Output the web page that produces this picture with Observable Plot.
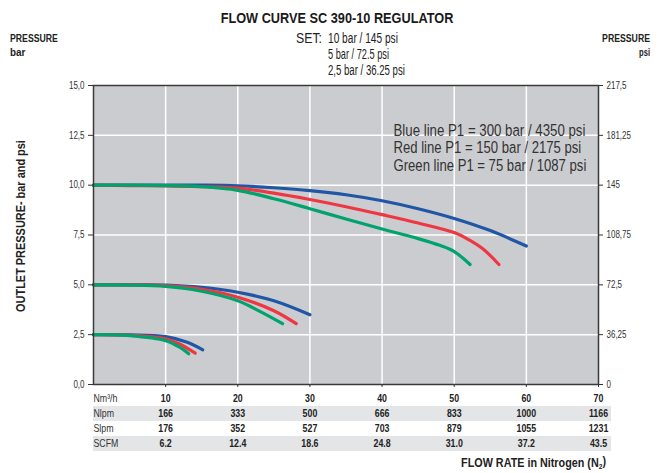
<!DOCTYPE html>
<html><head><meta charset="utf-8">
<script src="https://cdn.jsdelivr.net/npm/d3@7"></script>
<script src="https://cdn.jsdelivr.net/npm/@observablehq/plot@0.6"></script>
<style>
body{margin:0;background:#fff;}
#chart svg{display:block;}
</style></head><body><div id="chart"></div>
<script>
const FONT = "'Liberation Sans',Arial,sans-serif";

// Axis ticks and labels
const yTicks = [0, 2.5, 5, 7.5, 10, 12.5, 15];
const barLabels = ["0,0", "2,5", "5,0", "7,5", "10,0", "12,5", "15,0"];
const psiLabels = ["0", "36,25", "72,5", "108,75", "145", "181,25", "217,5"];

// Flow table (x axis)
const flowTicks = [10, 20, 30, 40, 50, 60, 70];
const nlpm = [166, 333, 500, 666, 833, 1000, 1166];
const slpm = [176, 352, 527, 703, 879, 1055, 1231];
const scfm = ["6.2", "12.4", "18.6", "24.8", "31.0", "37.2", "43.5"];
const rowLabels = ["Nm³/h", "Nlpm", "Slpm", "SCFM"];

// Legend lines
const legendLines = ["Blue line P1 = 300 bar / 4350 psi", "Red line P1 = 150 bar / 2175 psi", "Green line P1 = 75 bar / 1087 psi"];

// Curves: [flow Nm3/h, outlet pressure bar]
const blue10 = [[0,10],[5,10],[10,10],[15,10],[20,9.97],[25,9.87],[30,9.73],[35,9.52],[40,9.22],[45,8.82],[50,8.33],[55,7.72],[60,6.95]];
const red10 = [[0,10],[5,9.98],[10,9.96],[15,9.93],[20,9.85],[25,9.6],[30,9.28],[35,8.92],[40,8.52],[45,8.1],[50,7.62],[52,7.27],[54,6.8],[56.2,6.02]];
const green10 = [[0,10],[5,10],[10,9.98],[15,9.92],[20,9.74],[25,9.32],[30,8.82],[35,8.3],[40,7.8],[45,7.32],[48,6.98],[50,6.67],[52.2,6.02]];
const blue5 = [[0,5],[5,5],[10,4.99],[15,4.88],[20,4.63],[25,4.2],[30,3.5]];
const red5 = [[0,5],[5,5],[10,4.96],[15,4.78],[20,4.38],[25,3.7],[28.1,3.05]];
const green5 = [[0,5],[5,4.99],[10,4.92],[15,4.68],[20,4.2],[23,3.68],[26.2,3.05]];
const blue25 = [[0,2.5],[5,2.49],[10,2.4],[13,2.12],[15.15,1.74]];
const red25 = [[0,2.5],[5,2.47],[10,2.29],[12,2.02],[14.1,1.57]];
const green25 = [[0,2.5],[5,2.45],[10,2.2],[12,1.86],[13.2,1.54]];

const BLUE = "#1f56a6", RED = "#ee3742", GREEN = "#00a36c";
const series = [
  [blue10, BLUE], [red10, RED], [green10, GREEN],
  [blue5, BLUE], [red5, RED], [green5, GREEN],
  [blue25, BLUE], [red25, RED], [green25, GREEN]
];

const tickColor = "#333";
const lineMarks = series.map(([pts, c]) =>
  Plot.line(pts, {x: d => d[0], y: d => d[1], stroke: c, strokeWidth: 3.2, curve: "catmull-rom"})
);

const tableRows = [flowTicks, nlpm, slpm, scfm];
const tableMarks = [];
tableRows.forEach((vals, r) => {
  const dy = 14 + r * 15;
  if (r % 2 === 1) {
    tableMarks.push(Plot.ruleY([0], {x1: 0, x2: 70, dy, strokeWidth: 15, stroke: "#e4e5e7", insetRight: -13}));
  }
  tableMarks.push(Plot.text([rowLabels[r]], {x: 0, y: 0, text: d => d, dy, textAnchor: "start", fontSize: 11, fill: "#333"}));
  tableMarks.push(Plot.text(flowTicks.map((f, i) => ({f, v: vals[i]})), {x: "f", y: () => 0, text: d => String(d.v), dy, fontSize: 11, fontWeight: "bold", fill: "#222"}));
});

const legendMarks = legendLines.map((t, i) =>
  Plot.text([t], {frameAnchor: "top-left", dx: 300, dy: 38 + i * 17.7, textAnchor: "start", fontSize: 17, fill: "#333", className: "legend-line"})
);

const chart = Plot.plot({
  width: 662, height: 473,
  marginLeft: 93, marginRight: 64, marginTop: 85, marginBottom: 89,
  x: {domain: [0, 70]},
  y: {domain: [0, 15]},
  style: {fontFamily: FONT, background: "white", overflow: "visible"},
  marks: [
    Plot.frame({fill: "#cbcccf", stroke: null}),
    Plot.ruleX(flowTicks.slice(0, -1), {stroke: "white", strokeWidth: 1.5}),
    Plot.ruleY(yTicks.slice(1, -1), {stroke: "white", strokeWidth: 1.5}),
    ...lineMarks,
    Plot.frame({stroke: "#3a3a3a", strokeWidth: 1.5}),
    Plot.axisY({ticks: yTicks, anchor: "left", tickFormat: d => barLabels[yTicks.indexOf(d)], tickSize: 5, tickPadding: 4, label: null, fontSize: 10, color: tickColor}),
    Plot.axisY({ticks: yTicks, anchor: "right", tickFormat: d => psiLabels[yTicks.indexOf(d)], tickSize: 4, tickPadding: 4, label: null, fontSize: 10, color: tickColor}),
    Plot.axisX({ticks: flowTicks, tickFormat: () => "", tickSize: 3, label: null, color: tickColor}),
    ...tableMarks,
    ...legendMarks
  ]
});
document.getElementById("chart").appendChild(chart);

const svg = d3.select(chart);

// Horizontally squeeze a text around its anchor point (mimics the condensed typeface)
function squeeze(el, s) {
  const x = parseFloat(el.getAttribute("x") || el.querySelector("tspan")?.getAttribute("x") || 0) || 0;
  const T = el.getAttribute("transform") || "";
  el.setAttribute("transform", `${T} translate(${x},0) scale(${s.toFixed(4)},1) translate(${-x},0)`.trim());
}
function naturalWidth(el) { return el.getBBox().width; }

svg.selectAll("text").each(function () {
  if (this.closest(".legend-line")) return;
  squeeze(this, 0.8);
});
const legendWidths = [192, 188, 193];
svg.selectAll(".legend-line text").each(function (d, i) {
  const w = naturalWidth(this);
  if (w > 0) squeeze(this, legendWidths[i] / w);
});

function addText(x, y, txt, opts = {}) {
  const t = svg.append("text").attr("x", x).attr("y", y).attr("dy", "0.35em")
    .attr("font-family", FONT).attr("font-size", opts.size || 12)
    .attr("font-weight", opts.weight || "normal").attr("fill", opts.fill || "#222")
    .attr("text-anchor", opts.anchor || "start").text(txt);
  if (opts.rotate) t.attr("transform", `rotate(-90 ${x} ${y})`);
  if (opts.width) {
    const w = naturalWidth(t.node());
    if (w > 0) squeeze(t.node(), opts.width / w);
  }
  return t;
}
addText(337, 18, "FLOW CURVE SC 390-10 REGULATOR", {size: 15, weight: "bold", anchor: "middle", fill: "#1a1a1a", width: 233});
addText(322, 38, "SET:", {size: 15, anchor: "end", width: 26});
addText(328, 38, "10 bar / 145 psi", {size: 15, width: 70});
addText(328, 54, "5 bar / 72.5 psi", {size: 15, width: 61});
addText(328, 70, "2,5 bar / 36.25 psi", {size: 15, width: 77});
addText(10, 38, "PRESSURE", {size: 11, weight: "bold", width: 48});
addText(10, 52, "bar", {size: 11, weight: "bold", width: 16});
addText(650, 38, "PRESSURE", {size: 11, weight: "bold", anchor: "end", width: 48});
addText(650, 52, "psi", {size: 11, weight: "bold", anchor: "end", width: 11});
addText(20, 226, "OUTLET PRESSURE- bar and psi", {size: 13, weight: "bold", anchor: "middle", rotate: true, width: 172});

const flowLabel = svg.append("text").attr("x", 606).attr("y", 462).attr("dy", "0.35em")
  .attr("font-family", FONT).attr("font-size", 13).attr("font-weight", "bold").attr("fill", "#222")
  .attr("text-anchor", "end");
flowLabel.append("tspan").text("FLOW RATE in Nitrogen (N");
flowLabel.append("tspan").attr("font-size", 8).attr("dy", "0.3em").text("2");
flowLabel.append("tspan").attr("dy", "-0.3em").text(")");
{
  const w = naturalWidth(flowLabel.node());
  if (w > 0) squeeze(flowLabel.node(), 145 / w);
}
</script></body></html>
